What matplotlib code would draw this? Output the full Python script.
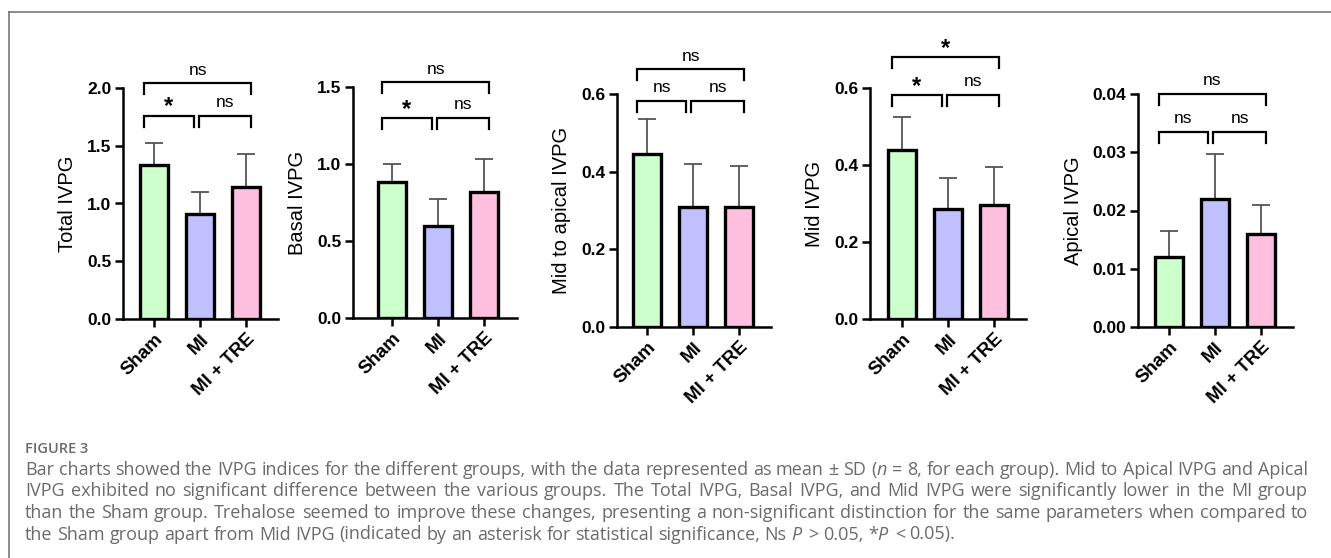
import numpy as np
import matplotlib
matplotlib.use("Agg")
from matplotlib import pyplot as plt
from matplotlib.lines import Line2D

plt.rcParams['font.family'] = ['Liberation Sans', 'DejaVu Sans']
plt.rcParams['mathtext.fontset'] = 'custom'
plt.rcParams['mathtext.rm'] = 'Open Sans'
plt.rcParams['mathtext.it'] = 'Open Sans:italic'

# データ
groups = ["Sham", "MI", "MI + TRE"]
colors = ["#ccffcc", "#c0c0ff", "#ffc0e0"]

ylabels = ["Total IVPG", "Basal IVPG", "Mid to apical IVPG", "Mid IVPG", "Apical IVPG"]
means = [
    [1.33, 0.91, 1.14],
    [0.88, 0.60, 0.82],
    [0.445, 0.31, 0.31],
    [0.44, 0.285, 0.295],
    [0.012, 0.022, 0.016],
]
sds = [
    [0.19, 0.19, 0.29],
    [0.12, 0.17, 0.21],
    [0.09, 0.11, 0.105],
    [0.085, 0.08, 0.10],
    [0.0045, 0.0077, 0.005],
]
ymax = [2.0, 1.5, 0.6, 0.6, 0.04]
ystep = [0.5, 0.5, 0.2, 0.2, 0.01]
tickfmt = ["%.1f", "%.1f", "%.1f", "%.1f", "%.2f"]

# 有意差 (Sham-MI, MI-TRE, Sham-TRE)
sig_labels = [
    ["*", "ns", "ns"],
    ["*", "ns", "ns"],
    ["ns", "ns", "ns"],
    ["*", "ns", "*"],
    ["ns", "ns", "ns"],
]
sig_low = [1.76, 1.30, 0.582, 0.582, 0.0335]
sig_high = [2.04, 1.53, 0.664, 0.68, 0.040]

caption_title = "FIGURE 3"
caption_lines = [
    r"Bar charts showed the IVPG indices for the different groups, with the data represented as mean ± SD ($\it{n}$ = 8, for each group). Mid to Apical IVPG and Apical",
    "IVPG exhibited no significant difference between the various groups. The Total IVPG, Basal IVPG, and Mid IVPG were significantly lower in the MI group",
    "than the Sham group. Trehalose seemed to improve these changes, presenting a non-significant distinction for the same parameters when compared to",
    r"the Sham group apart from Mid IVPG (indicated by an asterisk for statistical significance, Ns $\it{P}$ > 0.05, *$\it{P}$ < 0.05).",
]

# レイアウト (px)
W, H = 1331, 558
rects_px = [
    (123, 88, 278, 319),
    (353, 87, 517, 318),
    (617, 94, 771, 327),
    (870, 88, 1026, 319),
    (1138, 94, 1293, 327),
]
xlims = [(-0.68, 2.7), (-0.85, 2.72), (-0.65, 2.7), (-0.7, 2.7), (-0.67, 2.7)]

fig = plt.figure(figsize=(W / 100, H / 100), dpi=100)

for i in range(5):
    x0, y0, x1, y1 = rects_px[i]
    ax = fig.add_axes([x0 / W, 1 - y1 / H, (x1 - x0) / W, (y1 - y0) / H])
    x = np.arange(3)
    ax.errorbar(x, means[i], yerr=[np.zeros(3), sds[i]], fmt="none",
                ecolor="#555555", elinewidth=1.3, capsize=6.5, capthick=1.3, zorder=1)
    ax.bar(x, means[i], width=0.6, color=colors, edgecolor="black", linewidth=2.4, zorder=2)

    ax.set_xlim(*xlims[i])
    ax.set_ylim(0, ymax[i])
    ticks = np.arange(0, ymax[i] + ystep[i] / 2, ystep[i])
    ax.set_yticks(ticks)
    ax.set_yticklabels([tickfmt[i] % t for t in ticks], fontweight="bold", fontsize=12.5)
    ax.set_xticks(x)
    ax.set_xticklabels(groups, rotation=45, ha="right", rotation_mode="anchor",
                       fontweight="bold", fontsize=13.5)
    ax.set_ylabel(ylabels[i], fontsize=14.5, labelpad=7)
    for s in ["top", "right"]:
        ax.spines[s].set_visible(False)
    for s in ["left", "bottom"]:
        ax.spines[s].set_linewidth(1.8)
    ax.tick_params(direction="out", length=5.5, width=1.8, pad=3)

    # ブラケット
    leg = 11 / 231 * ymax[i]
    brackets = [(-0.22, 0.86, sig_low[i]), (0.97, 2.12, sig_low[i]), (-0.22, 2.12, sig_high[i])]
    for (a, b, h), lab in zip(brackets, sig_labels[i]):
        ax.plot([a, a, b, b], [h - leg, h, h, h - leg], color="black", lw=1.6,
                clip_on=False, solid_joinstyle="miter")
        if lab == "*":
            ax.annotate(lab, ((a + b) / 2, h), xytext=(0, -2), textcoords="offset points",
                        ha="center", va="bottom", fontsize=17, fontweight="bold",
                        annotation_clip=False)
        else:
            ax.annotate(lab, ((a + b) / 2, h), xytext=(0, 4), textcoords="offset points",
                        ha="center", va="bottom", fontsize=12.5, annotation_clip=False)

# 枠線
fig.add_artist(Line2D([9 / W, 1], [1 - 12 / H, 1 - 12 / H], color="#777777", lw=1.2))
fig.add_artist(Line2D([9 / W, 9 / W], [0, 1 - 12 / H], color="#777777", lw=1.2))

# キャプション (両端揃え)
cap_color = "#6b6b6b"
cap_size = 13
fig.text(25 / W, 1 - 449 / H, caption_title, fontsize=10.5, color=cap_color,
         family="Open Sans", fontweight="semibold", va="center")
renderer = fig.canvas.get_renderer()
left_px, right_px = 25, 1308
space_w = fig.text(0, 0, "a a", fontsize=cap_size, family="Open Sans").get_window_extent(renderer).width \
    - fig.text(0, 0, "aa", fontsize=cap_size, family="Open Sans").get_window_extent(renderer).width
for t in fig.texts[-2:]:
    t.remove()
for k, line in enumerate(caption_lines):
    y = 1 - (470 + 21.5 * k) / H
    words = line.split(" ")
    texts = [fig.text(0, y, w, fontsize=cap_size, color=cap_color, family="Open Sans", va="center")
             for w in words]
    widths = [t.get_window_extent(renderer).width for t in texts]
    if k < len(caption_lines) - 1:
        gap = (right_px - left_px - sum(widths)) / (len(words) - 1)
    else:
        gap = space_w
    pos = left_px
    for t, w in zip(texts, widths):
        t.set_x(pos / W)
        pos += w + gap

fig.savefig("out.png", dpi=100)
